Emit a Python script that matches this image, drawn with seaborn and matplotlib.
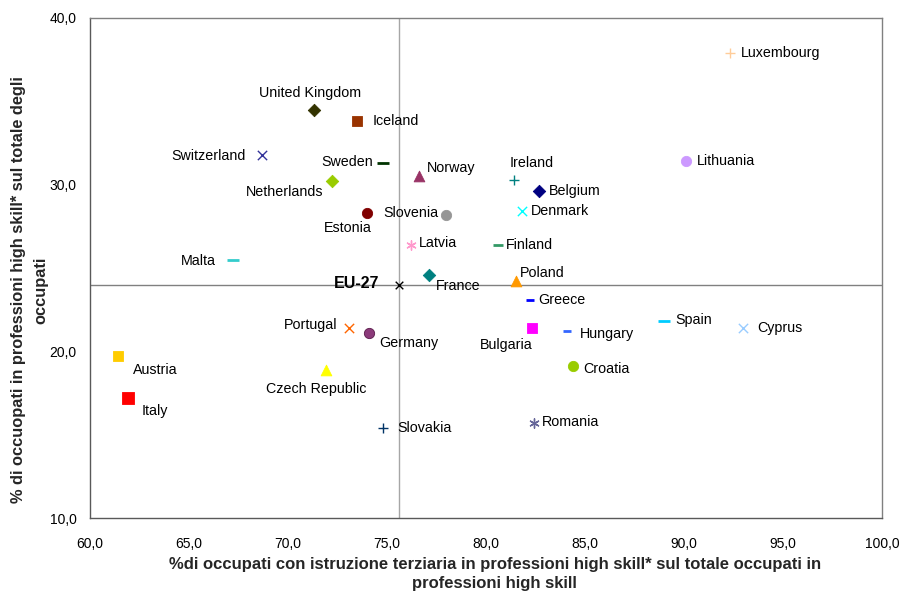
import matplotlib
matplotlib.use("Agg")
import matplotlib.pyplot as plt
import seaborn as sns
import pandas as pd
from matplotlib.ticker import FuncFormatter, MultipleLocator

countries = ["Luxembourg", "United Kingdom", "Iceland", "Switzerland", "Sweden", "Norway",
             "Ireland", "Lithuania", "Belgium", "Netherlands", "Estonia", "Slovenia",
             "Denmark", "Latvia", "Finland", "Malta", "France", "EU-27", "Poland", "Greece",
             "Portugal", "Germany", "Bulgaria", "Hungary", "Spain", "Cyprus", "Croatia",
             "Austria", "Czech Republic", "Italy", "Slovakia", "Romania"]
x_tertiary = [92.3, 71.3, 73.5, 68.7, 74.8, 76.6,
              81.4, 90.1, 82.7, 72.2, 74.0, 78.0,
              81.8, 76.2, 80.6, 67.2, 77.1, 75.6, 81.5, 82.2,
              73.1, 74.1, 82.3, 84.1, 89.0, 93.0, 84.4,
              61.4, 71.9, 61.9, 74.8, 82.4]
y_highskill = [37.9, 34.5, 33.8, 31.8, 31.3, 30.5,
               30.3, 31.4, 29.6, 30.2, 28.3, 28.2,
               28.4, 26.4, 26.4, 25.5, 24.6, 24.0, 24.2, 23.1,
               21.4, 21.1, 21.4, 21.2, 21.8, 21.4, 19.1,
               19.7, 18.9, 17.2, 15.4, 15.7]
colors = ["#FFCC99", "#333300", "#993300", "#333399", "#003300", "#993366",
          "#008080", "#CC99FF", "#000080", "#99CC00", "#800000", "#969696",
          "#00FFFF", "#FF99CC", "#339966", "#33CCCC", "#008080", "#000000", "#FF9900", "#0000FF",
          "#FF6600", "#8B3A7A", "#FF00FF", "#3366FF", "#00CCFF", "#99CCFF", "#99CC00",
          "#FFCC00", "#FFFF00", "#FF0000", "#003366", "#666699"]
markers = ["+", "D", "s", "x", "_", "^",
           "+", "o", "D", "D", "o", "o",
           "x", (6, 2, 0), "_", "_", "D", "x", "^", "_",
           "x", "o", "s", "_", "_", "x", "o",
           "s", "^", "s", "+", (6, 2, 0)]
sizes = [50, 40, 55, 45, 70, 60,
         50, 55, 40, 40, 55, 55,
         45, 45, 45, 70, 40, 30, 60, 35,
         45, 55, 55, 35, 70, 45, 55,
         55, 60, 80, 50, 45]
# label offsets in points (dx, dy) and horizontal alignment
label_pos = [(8, 0, "left"), (-3, 12, "center"), (11, 0, "left"), (-12, -1, "right"),
             (-7, 1, "right"), (6, 6, "left"), (-3, 12, "left"), (8, 0, "left"),
             (7, 0, "left"), (-6, -8, "right"), (-14, -11, "center"), (-6, 1, "right"),
             (7, 0, "left"), (6, 1, "left"), (6, 0, "left"), (-12, -1, "right"),
             (5, -8, "left"), (-14, 1, "right"), (3, 6, "left"), (6, 0, "left"),
             (-9, 2, "right"), (7, -7, "left"), (1, -12, "right"), (9, -2, "left"),
             (8, 1, "left"), (10, 0, "left"), (7, -2, "left"),
             (11, -10, "left"), (-7, -14, "center"), (10, -9, "left"), (10, 0, "left"),
             (6, 1, "left")]

df = pd.DataFrame({"country": countries, "x": x_tertiary, "y": y_highskill})

sns.set_style("white")
plt.rcParams["font.family"] = ["Liberation Sans", "DejaVu Sans"]

fig = plt.figure(figsize=(9.02, 5.92), dpi=100)
ax = fig.add_axes([90 / 902, 1 - 518 / 592, 792 / 902, 500 / 592])

eu_x = df.loc[df.country == "EU-27", "x"].iloc[0]
eu_y = df.loc[df.country == "EU-27", "y"].iloc[0]
ax.axvline(eu_x, color="#A6A6A6", lw=1, zorder=1)
ax.axhline(eu_y, color="#808080", lw=1, zorder=1)

for i, row in df.iterrows():
    m = markers[i]
    unfilled = m in ("+", "x", "_") or isinstance(m, tuple)
    kw = dict(x=[row.x], y=[row.y], ax=ax, marker=m, s=sizes[i], zorder=3, legend=False)
    if unfilled:
        lw = 2 if m == "_" else 1
        sns.scatterplot(color=colors[i], linewidth=lw, **kw)
    else:
        ec = "#5A1A4A" if row.country == "Germany" else colors[i]
        sns.scatterplot(color=colors[i], edgecolor=ec, linewidth=0.6, **kw)
    dx, dy, ha = label_pos[i]
    bold = row.country == "EU-27"
    ax.annotate(row.country, (row.x, row.y), xytext=(dx, dy), textcoords="offset points",
                ha=ha, va="center", fontsize=10.3 if not bold else 11.5,
                fontweight="bold" if bold else "normal", color="#000000", zorder=4)

ax.set_xlim(60, 100)
ax.set_ylim(10, 40)
ax.xaxis.set_major_locator(MultipleLocator(5))
ax.yaxis.set_major_locator(MultipleLocator(10))
fmt = FuncFormatter(lambda v, p: f"{v:.1f}".replace(".", ","))
ax.xaxis.set_major_formatter(fmt)
ax.yaxis.set_major_formatter(fmt)
ax.tick_params(axis="both", length=0, labelsize=10, colors="#000000")
ax.tick_params(axis="x", pad=13.5)
ax.tick_params(axis="y", pad=9.5)
for s in ax.spines.values():
    s.set_color("#808080")
    s.set_linewidth(1)
ax.spines["left"].set_color("#595959")
ax.spines["bottom"].set_color("#595959")

ax.set_xlabel("%di occupati con istruzione terziaria in professioni high skill* sul totale occupati in\nprofessioni high skill",
              fontsize=12, fontweight="bold", va="center", linespacing=1.35)
ax.xaxis.set_label_coords(0.511, -0.112)
ax.set_ylabel("% di occuopati in professioni high skill* sul totale degli\noccupati",
              fontsize=11.8, fontweight="bold", va="center", linespacing=1.6)
ax.yaxis.set_label_coords(-0.0764, 0.456)

fig.savefig("out.png", dpi=100)
